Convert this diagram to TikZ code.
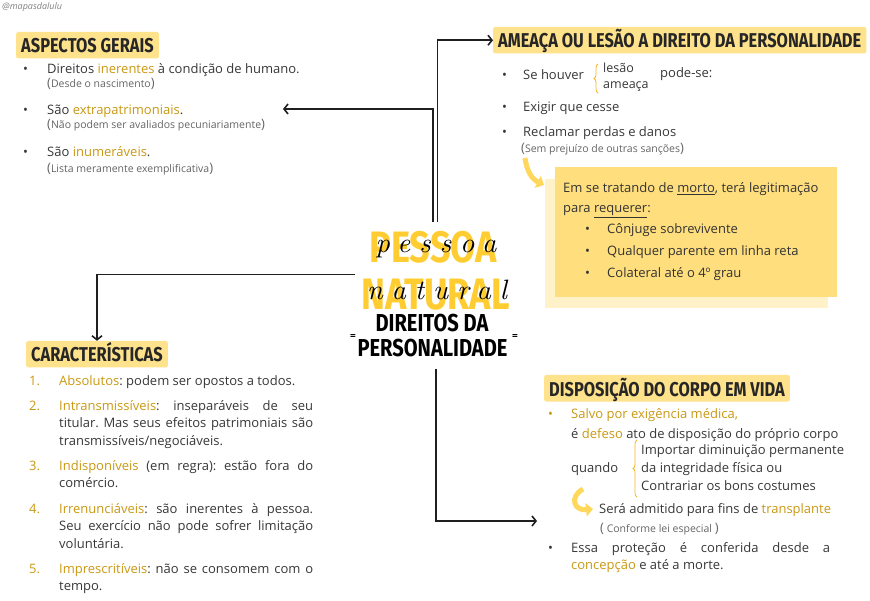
\documentclass[tikz,border=0pt]{standalone}
\usepackage{fontspec}
\setmainfont{Open Sans}
\newfontfamily\titlefont[FakeStretch=0.82]{Fira Sans}
\newfontfamily\cursiva[Extension=.otf,LetterSpace=32]{lmroman10-italic}
\usetikzlibrary{arrows.meta,decorations.pathreplacing,fadings}

\definecolor{ouro}{RGB}{201,152,18}
\definecolor{texto}{RGB}{55,55,55}
\definecolor{cinza}{RGB}{100,100,100}
\definecolor{faixa}{RGB}{255,226,140}
\definecolor{caixa}{RGB}{255,222,125}
\definecolor{sombra}{RGB}{255,241,200}
\definecolor{amarelo}{RGB}{255,205,50}
\definecolor{chave}{RGB}{245,185,40}

\newcommand{\dest}[1]{\textcolor{ouro}{#1}}
\newcommand{\marca}[1]{\makebox[#1][l]{•}}
\newcommand{\ab}{{\fontsize{13}{13}\selectfont(}}
\newcommand{\fc}{{\fontsize{13}{13}\selectfont)}}
\frenchspacing
\tikzfading[name=desce, top color=transparent!0, bottom color=transparent!75]

\begin{document}
\begin{tikzpicture}[x=1pt,y=1pt]
        \tikzstyle{every node}+=[inner sep=0pt]
        \tikzstyle{titulo}=[anchor=base west, fill=faixa, rounded corners=2pt, inner xsep=5pt, text height=21pt, text depth=5.5pt, font=\titlefont\bfseries\fontsize{20}{20}\selectfont, text=black!85]
        \tikzstyle{corpo}=[anchor=base west, font=\fontsize{13}{17.5}\selectfont, text=texto]
        \tikzstyle{item}=[corpo, text width=254pt, align=justify]
        \tikzstyle{num}=[anchor=base west, font=\fontsize{13}{17.5}\selectfont, text=ouro]
        \tikzstyle{nota}=[anchor=base west, font=\fontsize{10.5}{12}\selectfont, text=cinza]
        \tikzstyle{grande}=[anchor=base, font=\titlefont\bfseries\fontsize{44}{44}\selectfont, text=amarelo]
        \tikzstyle{escrita}=[anchor=base, font=\cursiva\fontsize{28}{28}\selectfont, text=black]
        \tikzstyle{centro}=[anchor=base, font=\titlefont\bfseries\fontsize{24.5}{24.5}\selectfont, text=black]
        \tikzstyle{seta}=[draw=black!88, line width=1.6pt, -{Straight Barb[length=4pt,width=10pt]}]
        \tikzstyle{curva}=[draw=amarelo!80, line width=5pt, -{Triangle[length=7pt,width=13pt]}]
        \tikzstyle{chaveta}=[draw=chave, line width=0.8pt, decorate, decoration={brace,amplitude=4pt}]
        \useasboundingbox (0,0) rectangle (870,-601);
        \node[anchor=base west, font=\itshape\fontsize{9}{9}\selectfont, text=gray] (selo) at (2,-10) {@mapasdalulu};
        % aspectos gerais
        \node[titulo] (aspectos) at (16,-53) {ASPECTOS GERAIS};
        \node[corpo] (inerentes) at (23,-74) {\marca{24pt}Direitos \dest{inerentes} à condição de humano.};
        \node[nota] (nascimento) at (47,-88) {\ab Desde o nascimento\fc};
        \node[corpo] (extra) at (23,-115) {\marca{24pt}São \dest{extrapatrimoniais}.};
        \node[nota] (pecuniario) at (47,-129) {\ab Não podem ser avaliados pecuniariamente\fc};
        \node[corpo] (inumeraveis) at (23,-157) {\marca{24pt}São \dest{inumeráveis}.};
        \node[nota] (lista) at (47,-173) {\ab Lista meramente exemplificativa\fc};
        \coordinate (aspR) at (283,-109);
        % ameaca ou lesao
        \node[titulo] (ameaca) at (493,-48) {AMEAÇA OU LESÃO A DIREITO DA PERSONALIDADE};
        \node[corpo] (houver) at (502,-80) {\marca{21pt}Se houver};
        \draw[chaveta] (598,-93) -- (598,-64);
        \node[corpo, font=\fontsize{12.5}{12.5}\selectfont] (lesao) at (603,-73) {lesão};
        \node[corpo, font=\fontsize{12.5}{12.5}\selectfont] (ameacas) at (603,-89) {ameaça};
        \node[corpo] (podese) at (660,-78) {pode-se:};
        \node[corpo] (exigir) at (502,-112) {\marca{21pt}Exigir que cesse};
        \node[corpo] (reclamar) at (502,-137) {\marca{21pt}Reclamar perdas e danos};
        \node[nota] (sancoes) at (521,-153) {\ab Sem prejuízo de outras sanções\fc};
        \draw[curva] (525,-158) .. controls (527,-172) and (532,-179) .. (544,-185);
        \fill[sombra] (545,-179) rectangle (828,-308);
        \fill[caixa] (555,-167) rectangle (837,-297);
        \node[corpo, text=black!80] (morto) at (563,-193) {Em se tratando de \underline{morto}, terá legitimação};
        \node[corpo, text=black!80] (requerer) at (563,-213) {para \underline{requerer}:};
        \node[corpo, text=black!80] (conjuge) at (585,-234) {\marca{22pt}Cônjuge sobrevivente};
        \node[corpo, text=black!80] (parente) at (585,-256) {\marca{22pt}Qualquer parente em linha reta};
        \node[corpo, text=black!80] (colateral) at (585,-278) {\marca{22pt}Colateral até o 4º grau};
        % centro
        \begin{scope}[scope fading=desce, fading transform={shift={(433,-248)}, xscale=2, yscale=0.34}]
        \node[grande] (pessoa) at (433,-263) {PESSOA};
        \end{scope}
        \begin{scope}[scope fading=desce, fading transform={shift={(435.5,-294)}, xscale=2.2, yscale=0.36}]
        \node[grande] (natural) at (435.5,-310) {NATURAL};
        \end{scope}
        \node[escrita] (pessoaesc) at (436,-253) {pessoa};
        \node[escrita] (naturalesc) at (437,-300) {natural};
        \node[centro] (direitos) at (432,-332) {DIREITOS DA};
        \node[centro] (personalidade) at (432.5,-357) {PERSONALIDADE};
        \node[font=\bfseries\fontsize{10}{10}\selectfont] (igualE) at (353,-337) {=};
        \node[font=\bfseries\fontsize{10}{10}\selectfont] (igualD) at (515,-337) {=};
        % caracteristicas
        \node[titulo] (caract) at (26,-362) {CARACTERÍSTICAS};
        \node[num] (n1) at (29,-385) {1.};
        \node[item] (absolutos) at (59,-385) {\dest{Absolutos}: podem ser opostos a todos.};
        \node[num] (n2) at (29,-410) {2.};
        \node[item] (intrans) at (59,-410) {\dest{Intransmissíveis}: inseparáveis de seu\linebreak titular. Mas seus efeitos patrimoniais são\linebreak transmissíveis/negociáveis.};
        \node[num] (n3) at (29,-470) {3.};
        \node[item] (indisp) at (59,-470) {\dest{Indisponíveis} (em regra): estão fora do\linebreak comércio.};
        \node[num] (n4) at (29,-513) {4.};
        \node[item] (irren) at (59,-513) {\dest{Irrenunciáveis}: são inerentes à pessoa.\linebreak Seu exercício não pode sofrer limitação\linebreak voluntária.};
        \node[num] (n5) at (29,-573) {5.};
        \node[item] (impresc) at (59,-573) {\dest{Imprescritíveis}: não se consomem com o\linebreak tempo.};
        % disposicao do corpo
        \node[titulo] (disp) at (544,-396) {DISPOSIÇÃO DO CORPO EM VIDA};
        \node[corpo, text=ouro] (salvo) at (548,-418) {\marca{23pt}Salvo por exigência médica,};
        \node[corpo] (defeso) at (571,-438) {é \dest{defeso} ato de disposição do próprio corpo};
        \node[corpo] (quando) at (571,-472) {quando};
        \draw[chaveta] (637,-497) -- (637,-440);
        \node[corpo] (importar) at (641,-454) {Importar diminuição permanente};
        \node[corpo] (integridade) at (641,-472) {da integridade física ou};
        \node[corpo] (contrariar) at (641,-490) {Contrariar os bons costumes};
        \draw[curva] (583,-489) .. controls (569,-497) and (574,-511) .. (593,-509);
        \node[corpo] (sera) at (599,-513) {Será admitido para fins de \dest{transplante}};
        \node[nota] (conforme) at (600,-532) {\ab\ Conforme lei especial \fc};
        \node[corpo] (bessa) at (548,-552) {•};
        \node[item, text width=259pt] (essa) at (571,-552) {Essa proteção é conferida desde a\linebreak \dest{concepção} e até a morte.};
        \coordinate (dispR) at (537,-521);
        % setas
        \draw[seta] ([xshift=4.5pt,yshift=10pt]pessoa.north) |- (ameaca.west);
        \draw[seta] ([yshift=10pt]pessoa.north) |- (aspR);
        \draw[seta] ([xshift=-6pt,yshift=5pt]natural.north west) -| (caract.north);
        \draw[seta] ([xshift=3.5pt,yshift=-11pt]personalidade.south) |- (dispR);
\end{tikzpicture}
\end{document}
